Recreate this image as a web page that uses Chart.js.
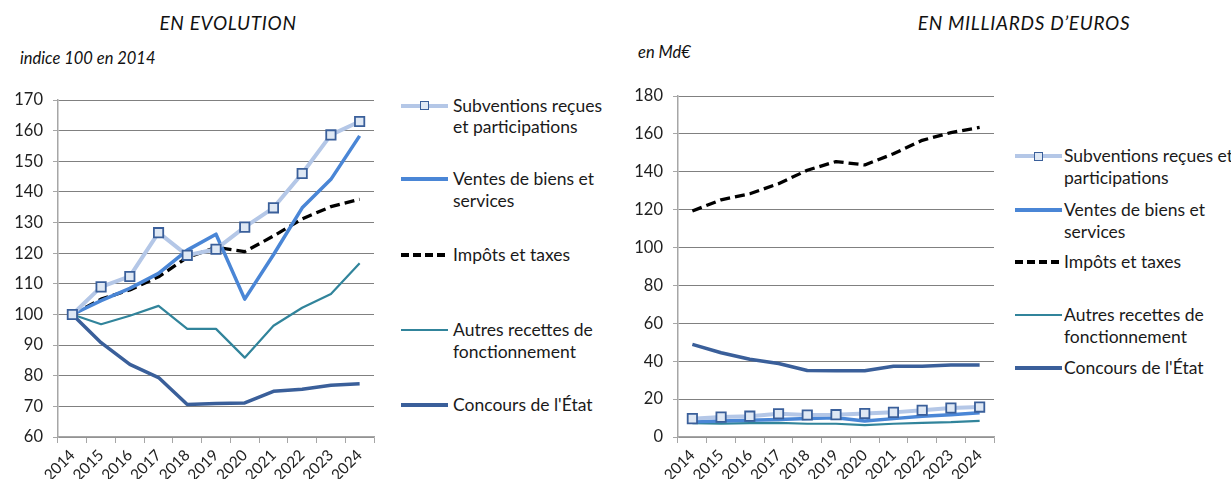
<!DOCTYPE html>
<html>
<head>
<meta charset="utf-8">
<script src="https://cdn.jsdelivr.net/npm/chart.js@4"></script>
<style>
  html, body { margin:0; padding:0; background:#fff; }
  body { width:1231px; height:479px; position:relative; overflow:hidden; font-family:'Lato', 'Open Sans', sans-serif; color:#1a1a1a; }
  canvas { position:absolute; top:0; }
  .title { position:absolute; font-style:italic; font-size:19px; letter-spacing:0.7px; white-space:nowrap; transform:translate(-50%,-50%); color:#111; }
  .sub { position:absolute; font-style:italic; font-size:16.5px; white-space:nowrap; transform:translateY(-50%); color:#111; }
  .ltext { position:absolute; font-size:17.5px; white-space:nowrap; color:#1a1a1a; }
  .lsample { position:absolute; }
  .lmark { position:absolute; box-sizing:border-box; }
</style>
</head>
<body>
<div class="title" style="left:228px; top:22px;">EN EVOLUTION</div>
<div class="title" style="left:1024px; top:22px;">EN MILLIARDS D’EUROS</div>
<div class="sub" style="left:20px; top:58px;">indice 100 en 2014</div>
<div class="sub" style="left:638px; top:52px;">en Md€</div>
<canvas id="left" width="390" height="479" style="left:0px;"></canvas>
<canvas id="right" width="390" height="479" style="left:620px;"></canvas>
<div id="legends"></div>
<script>
// ---------- DATA ----------
const years = ['2014','2015','2016','2017','2018','2019','2020','2021','2022','2023','2024'];
const seriesNames = ['Subventions reçues et participations','Ventes de biens et services','Impôts et taxes','Autres recettes de fonctionnement',"Concours de l'État"];

// Left chart: index 100 in 2014
const idxSubventions = [100, 109, 112.4, 126.7, 119.3, 121.3, 128.5, 134.8, 146, 158.6, 163];
const idxVentes      = [100, 104.5, 108.5, 113.4, 121, 126.2, 105, 119.5, 134.8, 144.1, 158.3];
const idxImpots      = [100, 105, 108, 112.3, 118.6, 121.9, 120.5, 125.6, 131.2, 135.2, 137.6];
const idxAutres      = [100, 96.8, 99.6, 102.8, 95.3, 95.3, 85.9, 96.3, 102.2, 106.7, 116.7];
const idxConcours    = [100, 90.8, 83.7, 79.4, 70.6, 70.9, 71.1, 74.9, 75.6, 76.9, 77.4];

// Right chart: billions of euros
const mdSubventions = [9.7, 10.5, 11.0, 12.3, 11.6, 11.8, 12.4, 13.0, 14.1, 15.3, 15.8];
const mdVentes      = [8.1, 8.5, 8.8, 9.2, 9.8, 10.2, 8.5, 9.7, 10.9, 11.7, 12.8];
const mdImpots      = [119.3, 125.2, 128.4, 133.7, 140.8, 145.4, 143.6, 149.5, 156.6, 160.7, 163.4];
const mdAutres      = [7.3, 7.1, 7.3, 7.5, 7.0, 7.0, 6.3, 7.0, 7.5, 7.8, 8.5];
const mdConcours    = [48.9, 44.5, 41.0, 38.8, 35.1, 35.0, 35.0, 37.3, 37.3, 38.0, 38.0];

const leftTicks  = { min: 60, max: 170, step: 10 };
const rightTicks = { min: 0,  max: 180, step: 20 };

const leftLegendLines  = [['Subventions reçues','et participations'],['Ventes de biens et','services'],['Impôts et taxes'],['Autres recettes de','fonctionnement'],["Concours de l'État"]];
const rightLegendLines = [['Subventions reçues et','participations'],['Ventes de biens et','services'],['Impôts et taxes'],['Autres recettes de','fonctionnement'],["Concours de l'État"]];

// ---------- STYLES ----------
const styles = [
  { color:'#b4c7e7', width:4,   marker:true },
  { color:'#4a86d6', width:3.5 },
  { color:'#000000', width:3.3, dash:[10,5] },
  { color:'#31849b', width:2.2 },
  { color:'#3a5f9a', width:3.5 }
];
const markerBorder = '#3a5f9a', markerFill = '#dfe8f4';

Chart.defaults.font.family = "'Lato', 'Open Sans', sans-serif";
Chart.defaults.color = '#1f1f1f';

function makeChart(id, dataArrays, tk, padTop) {
  const datasets = dataArrays.map((arr, i) => {
    const s = styles[i];
    return {
      label: seriesNames[i],
      data: arr,
      borderColor: s.color,
      backgroundColor: s.color,
      borderWidth: s.width,
      borderDash: s.dash || [],
      tension: 0,
      fill: false,
      pointStyle: 'rect',
      pointRadius: s.marker ? 6.6 : 0,
      pointHoverRadius: s.marker ? 6.6 : 0,
      pointBorderColor: markerBorder,
      pointBackgroundColor: markerFill,
      pointBorderWidth: 1.8,
      borderCapStyle: 'butt',
      borderJoinStyle: 'round'
    };
  });
  return new Chart(document.getElementById(id), {
    type: 'line',
    data: { labels: years, datasets },
    options: {
      responsive: false,
      devicePixelRatio: 1,
      animation: false,
      events: [],
      layout: { padding: { left: 10, top: padTop, right: 16, bottom: 0 } },
      plugins: { legend: { display: false }, tooltip: { enabled: false } },
      scales: {
        x: {
          offset: true,
          grid: { offset: true, drawOnChartArea: false, drawTicks: true, tickLength: 6, color: '#a6a6a6', tickColor: '#a6a6a6', lineWidth: 1 },
          border: { display: true, color: '#a6a6a6', width: 1.5 },
          ticks: { minRotation: 45, maxRotation: 45, padding: 3, font: { size: 15.5 }, color: '#1f1f1f', autoSkip: false },
          afterFit: (s) => { s.height = 42; }
        },
        y: {
          min: tk.min, max: tk.max,
          grid: { color: '#808080', lineWidth: 1, borderDash: [1, 2], drawTicks: true, tickLength: 5, tickColor: '#a6a6a6', tickBorderDash: [] },
          border: { display: true, color: '#a6a6a6', width: 1.5 },
          ticks: { stepSize: tk.step, padding: 10, font: { size: 16.5 }, color: '#1f1f1f' },
          afterFit: (s) => { s.width = 48; }
        }
      }
    }
  });
}

makeChart('left',  [idxSubventions, idxVentes, idxImpots, idxAutres, idxConcours], leftTicks, 100);
makeChart('right', [mdSubventions, mdVentes, mdImpots, mdAutres, mdConcours], rightTicks, 96);

// ---------- LEGENDS ----------
function buildLegend(sampleLeft, textLeft, centers, lineH, lines) {
  const host = document.getElementById('legends');
  centers.forEach((cy, i) => {
    const s = styles[i];
    const sample = document.createElement('div');
    sample.className = 'lsample';
    sample.style.left = sampleLeft + 'px';
    sample.style.width = '47px';
    sample.style.top = (cy - s.width / 2) + 'px';
    sample.style.height = s.width + 'px';
    if (s.dash) {
      sample.style.background = 'repeating-linear-gradient(to right, ' + s.color + ' 0 8px, transparent 8px 12px)';
    } else {
      sample.style.background = s.color;
    }
    host.appendChild(sample);
    if (s.marker) {
      const m = document.createElement('div');
      m.className = 'lmark';
      m.style.left = (sampleLeft + 23.5 - 4.5) + 'px';
      m.style.top = (cy - 4.5) + 'px';
      m.style.width = '9px';
      m.style.height = '9px';
      m.style.border = '1.6px solid ' + markerBorder;
      m.style.background = markerFill;
      host.appendChild(m);
    }
    const t = document.createElement('div');
    t.className = 'ltext';
    t.style.left = textLeft + 'px';
    t.style.top = (cy - lineH / 2) + 'px';
    t.style.lineHeight = lineH + 'px';
    t.innerHTML = lines[i].join('<br>');
    host.appendChild(t);
  });
}
buildLegend(401, 453, [105.7, 179, 255, 330, 405], 21.5, leftLegendLines);
buildLegend(1015, 1064, [156, 210, 262, 315, 368], 22, rightLegendLines);
</script>
</body>
</html>
